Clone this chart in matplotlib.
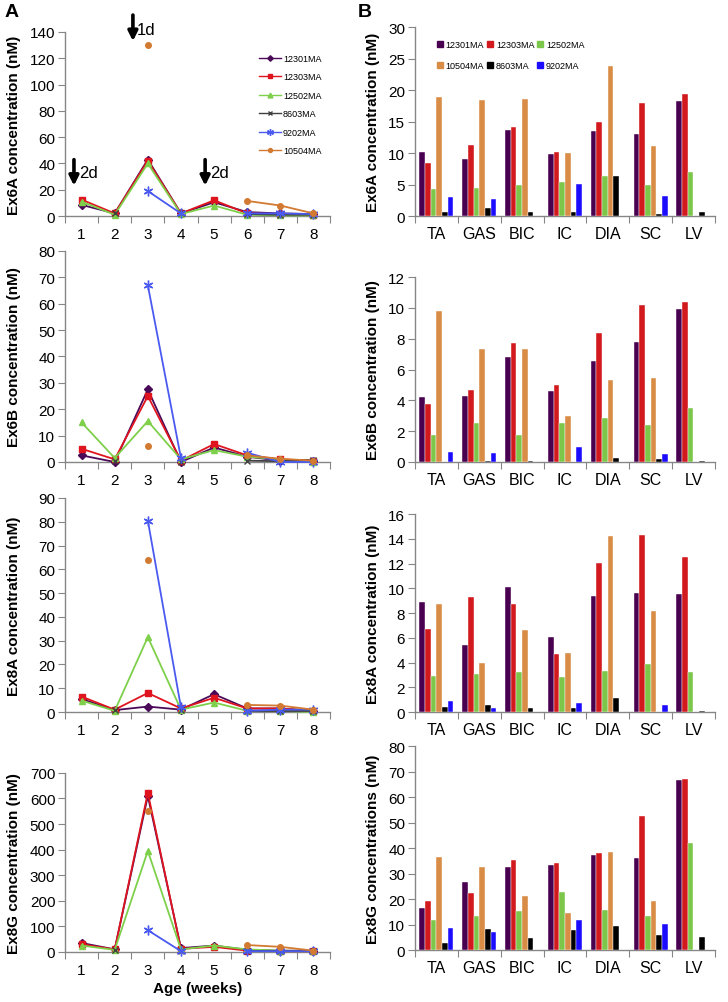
import numpy as np
import matplotlib
matplotlib.use("Agg")
import matplotlib.pyplot as plt
from matplotlib.patches import Patch
from matplotlib.lines import Line2D

plt.rcParams['font.family'] = ['Liberation Sans', 'DejaVu Sans']

nan = np.nan

# ---- panel A: concentration vs age ----
weeks = [1, 2, 3, 4, 5, 6, 7, 8]
line_names = ['12301MA', '12303MA', '12502MA', '8603MA', '9202MA', '10504MA']

ex6a_time = {
    '12301MA': [8.5, 2, 43, 2, 10.5, 3, 2, 1.5],
    '12303MA': [12.5, 2, 42, 2, 12, 2, 1.5, 1],
    '12502MA': [11, 1, 40, 1.5, 8, 1, 0.5, 0.5],
    '8603MA': [nan, 2.5, nan, 2, nan, 1.5, 1, 1],
    '9202MA': [nan, nan, 19, 2, nan, 2, 2, 1.5],
    '10504MA': [nan, nan, 130, nan, nan, 11.5, 8, 2],
}
ex6b_time = {
    '12301MA': [2.5, 0, 27.5, 0, 5.5, 2, 0.5, 0.5],
    '12303MA': [5, 1, 25, 0.5, 6.8, 2.5, 1, 0.5],
    '12502MA': [15, 1.5, 15.5, 1, 4.5, 2, 1, 0],
    '8603MA': [nan, 0.5, nan, 0, nan, 0.5, 0.3, 0.8],
    '9202MA': [nan, nan, 67, 1.5, nan, 3.5, 0, 0],
    '10504MA': [nan, nan, 6, nan, nan, 2.5, 1.2, 0.5],
}
ex8a_time = {
    '12301MA': [5.5, 0.8, 2.3, 1, 7.5, 1.5, 1.5, 0.5],
    '12303MA': [6.5, 1, 8, 1.5, 6, 1.5, 1.5, 0.5],
    '12502MA': [4.8, 0.5, 31.5, 1, 4, 0.5, 0.5, 0],
    '8603MA': [nan, 1, nan, 1, nan, 0.5, 0.5, 0.5],
    '9202MA': [nan, nan, 80.5, 2, nan, 0.5, 1, 1],
    '10504MA': [nan, nan, 64, nan, nan, 3, 2.7, 1],
}
ex8g_time = {
    '12301MA': [35, 10, 610, 15, 25, 8, 5, 5],
    '12303MA': [30, 10, 622, 12, 20, 5, 3, 3],
    '12502MA': [25, 8, 395, 10, 25, 10, 5, 3],
    '8603MA': [nan, 8, nan, 5, nan, 3, 3, 3],
    '9202MA': [nan, nan, 85, 3, nan, 3, 3, 3],
    '10504MA': [nan, nan, 550, nan, nan, 27, 20, 5],
}

# ---- panel B: tissue concentrations ----
tissues = ['TA', 'GAS', 'BIC', 'IC', 'DIA', 'SC', 'LV']
bar_names = ['12301MA', '12303MA', '12502MA', '10504MA', '8603MA', '9202MA']

ex6a_tissue = {
    '12301MA': [10.1, 9.1, 13.6, 9.9, 13.5, 13.1, 18.3],
    '12303MA': [8.4, 11.3, 14.1, 10.1, 14.9, 18.0, 19.4],
    '12502MA': [4.3, 4.4, 5.0, 5.4, 6.3, 4.9, 7.0],
    '10504MA': [18.9, 18.5, 18.6, 10.0, 23.9, 11.1, 0],
    '8603MA': [0.6, 1.3, 0.6, 0.7, 6.4, 0.4, 0.6],
    '9202MA': [3.1, 2.7, 0, 5.1, 0, 3.2, 0],
}
ex6b_tissue = {
    '12301MA': [4.2, 4.3, 6.8, 4.6, 6.55, 7.8, 9.95],
    '12303MA': [3.75, 4.7, 7.75, 5.0, 8.35, 10.2, 10.35],
    '12502MA': [1.75, 2.5, 1.75, 2.5, 2.85, 2.4, 3.5],
    '10504MA': [9.8, 7.3, 7.3, 3.0, 5.35, 5.45, 0],
    '8603MA': [0, 0.05, 0.08, 0, 0.25, 0.2, 0.08],
    '9202MA': [0.65, 0.6, 0, 0.95, 0, 0.5, 0],
}
ex8a_tissue = {
    '12301MA': [8.9, 5.45, 10.1, 6.1, 9.4, 9.65, 9.55],
    '12303MA': [6.75, 9.3, 8.7, 4.7, 12.05, 14.3, 12.55],
    '12502MA': [2.95, 3.1, 3.2, 2.85, 3.3, 3.85, 3.2],
    '10504MA': [8.7, 3.95, 6.6, 4.8, 14.25, 8.2, 0],
    '8603MA': [0.4, 0.6, 0.3, 0.35, 1.15, 0, 0.05],
    '9202MA': [0.9, 0.35, 0, 0.7, 0, 0.55, 0],
}
ex8g_tissue = {
    '12301MA': [16.5, 26.5, 32.5, 33.5, 37.1, 35.9, 66.8],
    '12303MA': [19.2, 22.2, 35.2, 34.0, 37.9, 52.6, 67.1],
    '12502MA': [11.8, 13.3, 15.2, 22.6, 15.8, 13.3, 41.9],
    '10504MA': [36.6, 32.7, 21.2, 14.6, 38.5, 19.3, 0],
    '8603MA': [2.8, 8.3, 4.8, 8.0, 9.3, 6.0, 5.3],
    '9202MA': [8.6, 7.0, 0, 11.6, 0, 10.4, 0],
}

line_style = {
    '12301MA': dict(color='#4B0A58', marker='D', ms=4),
    '12303MA': dict(color='#E0141E', marker='s', ms=4),
    '12502MA': dict(color='#7ED04B', marker='^', ms=5),
    '8603MA': dict(color='#404040', marker='x', ms=4),
    '9202MA': dict(color='#4A5AF0', marker=(6, 2, 0), ms=7),
    '10504MA': dict(color='#D27A32', marker='o', ms=4),
}
bar_colors = {
    '12301MA': '#4A0050',
    '12303MA': '#D2191E',
    '12502MA': '#7CC64A',
    '10504MA': '#D98C45',
    '8603MA': '#000000',
    '9202MA': '#1C0CFF',
}

axis_gray = '#868686'

fig = plt.figure(figsize=(7.28, 10.03), dpi=100)

rects_a = [[0.0893, 0.7836, 0.364, 0.1835],
           [0.0893, 0.5384, 0.364, 0.2104],
           [0.0893, 0.2891, 0.364, 0.2134],
           [0.0893, 0.0499, 0.364, 0.1785]]
rects_b = [[0.570, 0.7836, 0.412, 0.1884],
           [0.570, 0.5384, 0.412, 0.1844],
           [0.570, 0.2891, 0.412, 0.1974],
           [0.570, 0.0518, 0.412, 0.2034]]


def style_axes(ax, n, labels, label_pad, label_size):
    for s in ['top', 'right']:
        ax.spines[s].set_visible(False)
    for s in ['left', 'bottom']:
        ax.spines[s].set_color(axis_gray)
        ax.spines[s].set_linewidth(1.0)
    ax.set_xlim(0.5, n + 0.5)
    ax.set_xticks(np.arange(0.5, n + 1, 1))
    ax.set_xticklabels([])
    ax.set_xticks(np.arange(1, n + 1), minor=True)
    ax.set_xticklabels(labels, minor=True, fontsize=label_size)
    ax.tick_params(axis='x', which='major', direction='out', length=5,
                   color=axis_gray)
    ax.tick_params(axis='x', which='minor', length=0, pad=label_pad)
    ax.tick_params(axis='y', direction='out', length=5, color=axis_gray,
                   labelsize=11, pad=2)


# panel A
a_data = [ex6a_time, ex6b_time, ex8a_time, ex8g_time]
a_ylim = [(140, 20), (80, 10), (90, 10), (700, 100)]
a_ylabels = ['Ex6A concentration (nM)', 'Ex6B concentration (nM)',
             'Ex8A concentration (nM)', 'Ex8G concentration (nM)']

axes_a = []
for rect, data, (ymax, step), ylab in zip(rects_a, a_data, a_ylim, a_ylabels):
    ax = fig.add_axes(rect)
    for name in line_names:
        st = line_style[name]
        ax.plot(weeks, data[name], color=st['color'], marker=st['marker'],
                markersize=st['ms'], linewidth=1.3, markeredgewidth=1.0,
                label=name, clip_on=False, zorder=3)
    style_axes(ax, 8, [str(w) for w in weeks], 8, 11)
    ax.set_ylim(0, ymax)
    ax.set_yticks(np.arange(0, ymax + 1, step))
    ax.set_ylabel(ylab, fontsize=11, fontweight='bold')
    ax.yaxis.set_label_coords(-0.165, 0.5)
    axes_a.append(ax)

axes_a[-1].set_xlabel('Age (weeks)', fontsize=11, fontweight='bold',
                      labelpad=3)

# legend for panel A
handles = []
for name in line_names:
    st = line_style[name]
    handles.append(Line2D([0], [0], color=st['color'], marker=st['marker'],
                          markersize=st['ms'] * 0.7, linewidth=1.0))
axes_a[0].legend(handles, line_names, loc='upper left', frameon=False,
                 bbox_to_anchor=(0.72, 0.90), fontsize=6.5, handlelength=2.4,
                 labelspacing=1.05, handletextpad=0.2, borderaxespad=0)

# dosing arrows
ax = axes_a[0]
ax.annotate('', xy=(2.55, 131), xytext=(2.55, 155),
            arrowprops=dict(arrowstyle='-|>', color='black', lw=2.6,
                            mutation_scale=14), annotation_clip=False)
ax.text(2.68, 142, '1d', fontsize=12, va='center', ha='left')
for xa in [0.77, 4.73]:
    ax.annotate('', xy=(xa, 21), xytext=(xa, 45),
                arrowprops=dict(arrowstyle='-|>', color='black', lw=2.6,
                                mutation_scale=14), annotation_clip=False)
    ax.text(xa + 0.15, 33, '2d', fontsize=12, va='center', ha='left')

# panel B
b_data = [ex6a_tissue, ex6b_tissue, ex8a_tissue, ex8g_tissue]
b_ylim = [(30, 5), (12, 2), (16, 2), (80, 10)]
b_ylabels = ['Ex6A concentration (nM)', 'Ex6B concentration (nM)',
             'Ex8A concentration (nM)', 'Ex8G concentrations (nM)']

bar_w = 0.133
x = np.arange(1, len(tissues) + 1)
axes_b = []
for rect, data, (ymax, step), ylab in zip(rects_b, b_data, b_ylim, b_ylabels):
    ax = fig.add_axes(rect)
    for i, name in enumerate(bar_names):
        offs = (i - 2.5) * bar_w
        ax.bar(x + offs, data[name], width=bar_w, color=bar_colors[name],
               edgecolor='white', linewidth=0.3, zorder=3)
    style_axes(ax, len(tissues), tissues, 7, 11.5)
    ax.set_ylim(0, ymax)
    ax.set_yticks(np.arange(0, ymax + 1, step))
    ax.set_ylabel(ylab, fontsize=11, fontweight='bold')
    ax.yaxis.set_label_coords(-0.115, 0.5)
    axes_b.append(ax)

order = [0, 3, 1, 4, 2, 5]
bh = [Patch(color=bar_colors[bar_names[i]]) for i in order]
axes_b[0].legend(bh, [bar_names[i] for i in order], loc='upper left', ncol=3,
                 frameon=False, bbox_to_anchor=(0.06, 0.95), fontsize=6.5,
                 handlelength=0.7, handleheight=0.7, handletextpad=0.3,
                 columnspacing=0.3, labelspacing=1.3, borderaxespad=0)

fig.text(0.006, 0.988, 'A', fontsize=14, fontweight='bold', va='center')
fig.text(0.492, 0.988, 'B', fontsize=14, fontweight='bold', va='center')

fig.savefig('out.png', dpi=100)
